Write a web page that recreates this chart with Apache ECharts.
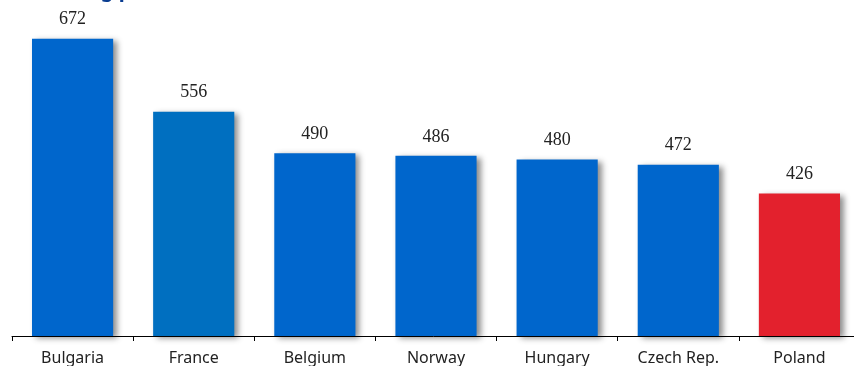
<!DOCTYPE html>
<html><head><meta charset="utf-8">
<script src="https://cdn.jsdelivr.net/npm/echarts@6/dist/echarts.min.js"></script>
<style>html,body{margin:0;padding:0;background:#fff}#c{width:854px;height:366px}</style>
</head><body><div id="c"></div>
<script>
const categories = ["Bulgaria","France","Belgium","Norway","Hungary","Czech Rep.","Poland"];
const values = [672,556,490,486,480,472,426];
const barColors = ["#0066cc","#006fc0","#0066cc","#0066cc","#0066cc","#0066cc","#e3212d"];
const titleText = "Housing prices, EUR";

const chart = echarts.init(document.getElementById('c'), null, {renderer:'canvas'});
chart.setOption({
  animation:false,
  graphic:[{type:'text', x:31, y:-8.5, z:10, style:{text:titleText, fill:'#0a3d91', font:'bold 20px "Noto Sans"', verticalAlign:'middle'}}],
  grid:{left:12, width:848, top:21, height:315, outerBoundsMode:'none', containLabel:false},
  xAxis:{type:'category', data:categories,
    axisLine:{lineStyle:{color:'#000', width:1}},
    axisTick:{show:true, length:5, lineStyle:{color:'#000'}},
    axisLabel:{color:'#222', fontSize:16, fontFamily:'"Noto Sans"', margin:14}},
  yAxis:{type:'value', min:200, max:700, show:false, splitLine:{show:false}},
  series:[{type:'bar', barWidth:'67%',
    data: values.map((v,i)=>({value:v, itemStyle:{color:barColors[i]}})),
    itemStyle:{shadowColor:'rgba(0,0,0,0.45)', shadowBlur:6, shadowOffsetX:4, shadowOffsetY:2},
    label:{show:true, position:'top', distance:10, color:'#222', fontSize:18, fontFamily:'"Liberation Serif"'}
  }]
});
</script></body></html>
